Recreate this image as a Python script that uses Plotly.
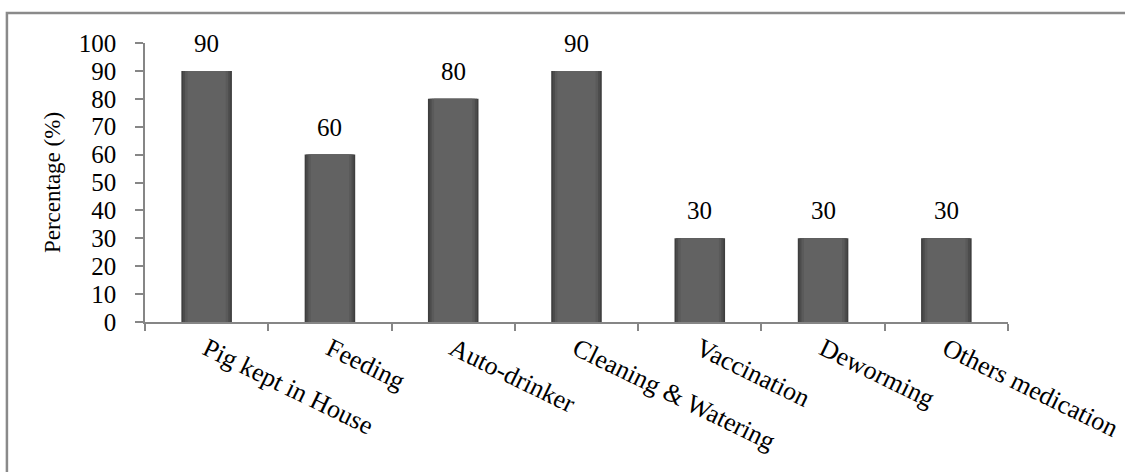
import plotly.graph_objects as go

# Husbandry practices and the share of farmers adopting each
categories = [
    "Pig kept in House",
    "Feeding",
    "Auto-drinker",
    "Cleaning & Watering",
    "Vaccination",
    "Deworming",
    "Others medication",
]
percentages = [90, 60, 80, 90, 30, 30, 30]
y_ticks = list(range(0, 101, 10))

FONT = "Liberation Serif, Times New Roman, serif"
AXIS_GREY = "#868686"

fig = go.Figure()

# Stacked-width layers: darker rims fading into a lighter face
bar_layers = [(0.41, "#3e3e3e"), (0.385, "#4c4c4c"), (0.35, "#5a5a5a"), (0.31, "#626262")]
for i, (w, col) in enumerate(bar_layers):
    fig.add_trace(
        go.Bar(
            x=categories,
            y=percentages,
            width=w,
            marker=dict(color=col, line=dict(width=0)),
            hoverinfo="x+y" if i == 0 else "skip",
        )
    )

# Value labels above each bar
for cat, val in zip(categories, percentages):
    fig.add_annotation(
        x=cat,
        y=val,
        text=str(val),
        showarrow=False,
        yanchor="bottom",
        yshift=12,
        font=dict(family=FONT, size=25, color="black"),
    )

fig.update_layout(
    width=1125,
    height=472,
    margin=dict(l=145, r=117, t=43, b=150),
    paper_bgcolor="white",
    plot_bgcolor="white",
    font=dict(family=FONT, size=24, color="black"),
    showlegend=False,
    barmode="overlay",
)

fig.update_xaxes(
    automargin=False,
    showline=True,
    linecolor=AXIS_GREY,
    linewidth=1.5,
    ticks="outside",
    tickson="boundaries",
    ticklen=7,
    tickcolor=AXIS_GREY,
    tickwidth=1.5,
    tickangle=26,
    tickfont=dict(family=FONT, size=26, color="black"),
    showgrid=False,
    zeroline=False,
)

fig.update_yaxes(
    automargin=False,
    range=[0, 100],
    tickvals=y_ticks,
    showline=True,
    linecolor=AXIS_GREY,
    linewidth=1.5,
    ticks="outside",
    ticklen=8,
    tickcolor=AXIS_GREY,
    tickwidth=1.5,
    ticklabelstandoff=14,
    tickfont=dict(family=FONT, size=25, color="black"),
    showgrid=False,
    zeroline=False,
    title=dict(
        text="Percentage (%)",
        standoff=12,
        font=dict(family=FONT, size=23, color="black"),
    ),
)

# Chart-area frame
fig.add_shape(
    type="rect",
    xref="paper",
    yref="paper",
    x0=-0.16,
    x1=1.2,
    y0=-0.7,
    y1=1.1075,
    line=dict(color="#8a8a8a", width=2.5),
    layer="below",
)

fig.write_html("out.html")
